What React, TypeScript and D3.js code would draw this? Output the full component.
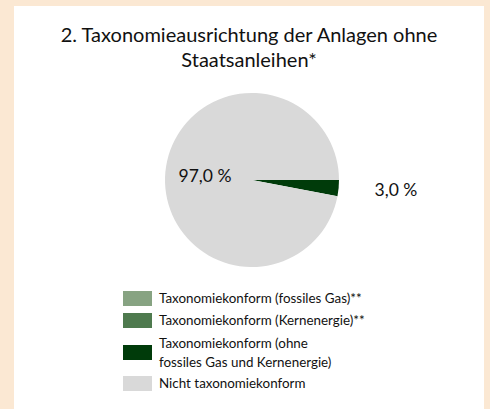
import React from "react";
import * as d3 from "d3";

const titleLines = ["2. Taxonomieausrichtung der Anlagen ohne", "Staatsanleihen*"];
const categories = [
  "Taxonomiekonform (fossiles Gas)**",
  "Taxonomiekonform (Kernenergie)**",
  "Taxonomiekonform (ohne\nfossiles Gas und Kernenergie)",
  "Nicht taxonomiekonform",
];
const values = [0, 0, 3.0, 97.0];
const colors = ["#87a382", "#4e7a4e", "#003b0a", "#d9d9d9"];

const W = 490, H = 409;
const FONT = "Lato, 'Open Sans', sans-serif";

export default function App() {
  const cx = 252, cy = 180, r = 87;
  const pie = d3.pie<number>().sort(null).startAngle(Math.PI / 2).endAngle(Math.PI / 2 + 2 * Math.PI);
  const arcs = pie(values);
  const arc = d3.arc<d3.PieArcDatum<number>>().innerRadius(0).outerRadius(r);
  const fmt = (v: number) => d3.format(".1f")(v).replace(".", ",") + " %";

  const labelPos: Record<number, [number, number, string]> = {
    2: [396, 196, "middle"],
    3: [205, 182, "middle"],
  };

  const legendY = [298.5, 320.5, 352.5, 383.5];

  return (
    <svg width={W} height={H} style={{ position: "absolute", left: 0, top: 0 }}>
      <rect x={0} y={0} width={W} height={H} fill="#fbe8d3" />
      <rect x={14} y={6} width={470} height={H} fill="#ffffff" />
      {titleLines.map((t, i) => (
        <text key={i} x={249} y={42 + i * 25} textAnchor="middle" fontFamily={FONT} fontSize={20} fill="#111">
          {t}
        </text>
      ))}
      <g transform={`translate(${cx},${cy})`}>
        {arcs.map((a, i) =>
          a.value > 0 ? <path key={i} d={arc(a) || ""} fill={colors[i]} /> : null
        )}
      </g>
      {arcs.map((a, i) =>
        a.value > 0 && labelPos[i] ? (
          <text key={i} x={labelPos[i][0]} y={labelPos[i][1]} textAnchor={labelPos[i][2] as any}
            fontFamily={FONT} fontSize={17.5} fill="#111">
            {fmt(a.value)}
          </text>
        ) : null
      )}
      {categories.map((c, i) => {
        const lines = c.split("\n");
        const y = legendY[i];
        return (
          <g key={i}>
            <rect x={123} y={y - 7.5} width={29} height={15} fill={colors[i]} />
            {lines.map((l, j) => (
              <text key={j} x={159} y={y + 4.5 + (j - (lines.length - 1) / 2) * 19}
                fontFamily={FONT} fontSize={13.4} fill="#111">
                {l}
              </text>
            ))}
          </g>
        );
      })}
    </svg>
  );
}
